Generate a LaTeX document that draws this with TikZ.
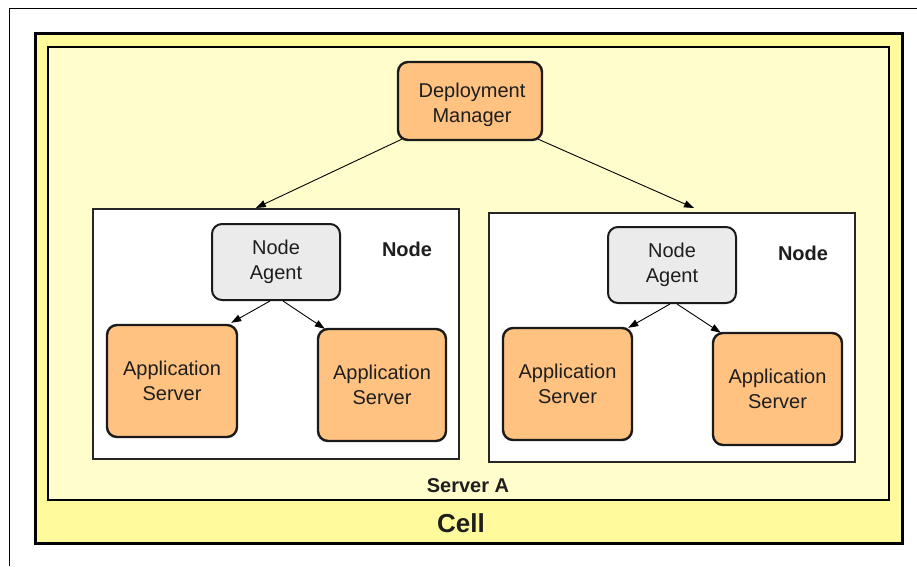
\documentclass[tikz,border=0pt]{standalone}
\usepackage{fontspec}
\setmainfont{Liberation Sans}
\usetikzlibrary{arrows.meta,calc}

\definecolor{cellfill}{HTML}{FFFB9C}
\definecolor{serverfill}{HTML}{FFFDCC}
\definecolor{appfill}{HTML}{FFC281}
\definecolor{agentfill}{HTML}{EBEBEB}
\definecolor{ink}{HTML}{1E1E1E}
\definecolor{edge}{HTML}{1A1A1A}

\tikzset{
  box/.style={rectangle, draw=edge, inner sep=0pt, align=center, text=ink,
    font=\fontsize{20}{25}\selectfont},
  appbox/.style={box, rounded corners=10pt, fill=appfill, line width=2.4pt},
  agentbox/.style={box, rounded corners=10pt, fill=agentfill, line width=2pt},
  nodebox/.style={box, fill=white, line width=2pt, draw=black!85},
  boxtext/.style={inner sep=0pt, align=center, text=ink, font=\fontsize{20}{25}\selectfont},
  boldlabel/.style={font=\fontsize{20}{24}\selectfont\bfseries, text=ink, inner sep=0pt},
  arr/.style={-{Triangle[length=10pt,width=7pt]}, line width=0.9pt, draw=black}
}

\begin{document}
\begin{tikzpicture}[x=1pt,y=-1pt]
  \useasboundingbox (0,0) rectangle (917,566);

  % page frame (top and left rules)
  \draw[line width=1pt, black] (9,566) -- (9,8) -- (917,8);

  % cell and server containers
  \node[box, fill=cellfill, line width=3pt, draw=black,
        minimum width=867pt, minimum height=510pt] (cell) at (468.5,288) {};
  \node[box, fill=serverfill, line width=2.5pt, draw=black,
        minimum width=841pt, minimum height=453pt] (srv) at (468.5,273.5) {};

  % deployment manager
  \node[appbox, minimum width=144pt, minimum height=78pt] (dm) at (470,101) {};
  \node[boxtext] (dmtext) at ($(dm.center)+(2,4)$) {Deployment\\Manager};

  % managed nodes
  \node[nodebox, minimum width=366pt, minimum height=250pt] (nodeL) at (276,334) {};
  \node[nodebox, minimum width=366pt, minimum height=249pt] (nodeR) at (672,337.5) {};

  % node agents
  \node[agentbox, minimum width=128pt, minimum height=76pt] (naL) at (276,262) {Node\\Agent};
  \node[agentbox, minimum width=128pt, minimum height=76pt] (naR) at (672,265) {Node\\Agent};

  % application servers
  \node[appbox, minimum width=130pt, minimum height=112pt] (as1) at (172,381) {Application\\Server};
  \node[appbox, minimum width=128pt, minimum height=112pt] (as2) at (382,385) {Application\\Server};
  \node[appbox, minimum width=129pt, minimum height=112pt] (as3) at (567.5,384) {Application\\Server};
  \node[appbox, minimum width=129pt, minimum height=112pt] (as4) at (777.5,389) {Application\\Server};

  % labels
  \node[boldlabel] (lblL) at (407,249) {Node};
  \node[boldlabel] (lblR) at (803,253) {Node};
  \node[boldlabel] (lblS) at (468,486) {Server A};
  \node[boldlabel, font=\fontsize{26}{30}\selectfont\bfseries] (lblC) at (461,523) {Cell};

  % deployment manager to nodes
  \draw[arr] ([shift={(5,-2)}]dm.south west) -- ($(nodeL.north west)!0.445!(nodeL.north east)$);
  \draw[arr] ([shift={(-5,-2)}]dm.south east) -- ($(nodeR.north west)!0.56!(nodeR.north east)+(0,-4)$);

  % node agents to application servers
  \draw[arr] ([xshift=-6pt]naL.south) -- ([xshift=-7pt,yshift=1pt]as1.north east);
  \draw[arr] ([xshift=7pt]naL.south) -- ([xshift=8pt,yshift=-1pt]as2.north west);
  \draw[arr] ([xshift=-2pt]naR.south) -- ([xshift=-5pt,yshift=-1pt]as3.north east);
  \draw[arr] ([xshift=5pt]naR.south) -- ([xshift=9pt,yshift=-1pt]as4.north west);
\end{tikzpicture}
\end{document}
